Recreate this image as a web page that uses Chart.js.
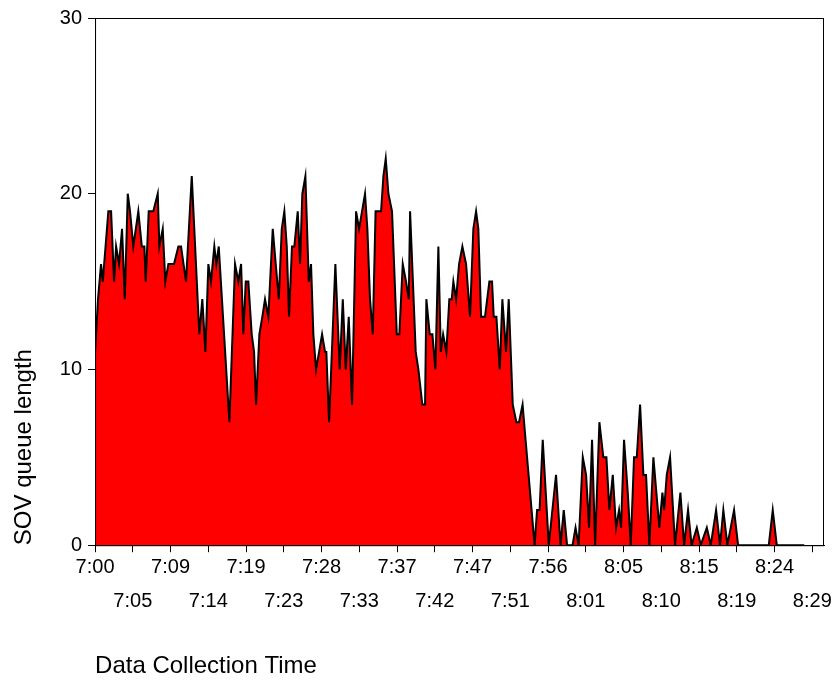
<!DOCTYPE html>
<html>
<head>
<meta charset="utf-8">
<title>SOV queue length</title>
<script src="https://cdn.jsdelivr.net/npm/chart.js@4.4.1/dist/chart.umd.min.js"></script>
<style>
  body { margin: 0; background: #fff; }
</style>
</head>
<body>
<canvas id="myChart" width="834" height="683"></canvas>
<script>
// minutes after 7:00
const times = [
    0, 0.37, 0.74, 0.96, 1.65, 1.99, 2.36, 2.61, 2.98, 3.35,
    3.69, 4.06, 4.34, 4.75, 5.37, 5.80, 6.12, 6.29, 6.66, 7.23,
    7.78, 7.98, 8.40, 8.72, 9.10, 9.80, 10.34, 10.67, 11.29, 12.00,
    12.94, 13.31, 13.69, 14.06, 14.39, 14.80, 15.05, 15.35, 16.67, 17.37,
    17.78, 18.12, 18.40, 18.70, 19.02, 19.44, 19.73, 19.98, 20.39, 20.76,
    21.09, 21.50, 22.05, 22.42, 22.80, 23.17, 23.49, 23.79, 24.07, 24.44,
    24.73, 25.15, 25.44, 25.72, 26.10, 26.52, 26.80, 27.09, 27.42, 27.80,
    28.17, 28.54, 28.70, 29.04, 29.82, 30.36, 30.74, 31.11, 31.48, 31.89,
    32.39, 32.76, 33.50, 33.79, 34.12, 34.46, 34.81, 35.49, 35.78, 36.07,
    36.40, 36.85, 37.44, 37.76, 38.18, 38.59, 38.93, 39.09, 39.79, 40.12,
    40.61, 40.95, 41.11, 41.53, 41.86, 42.23, 42.60, 42.90, 43.19, 43.59,
    43.96, 44.26, 44.46, 44.80, 45.17, 45.58, 46.04, 46.53, 46.94, 47.28,
    47.56, 47.90, 48.39, 48.93, 49.26, 49.47, 49.80, 50.22, 50.54, 51.00,
    51.33, 51.83, 52.28, 52.61, 53.05, 53.42, 54.54, 54.85, 55.16, 55.55,
    56.30, 57.20, 57.76, 58.16, 58.57, 59.25, 59.62, 60.00, 60.52, 60.93,
    61.30, 61.67, 62.05, 62.58, 63.07, 63.45, 63.82, 64.24, 64.65, 65.02,
    65.27, 65.64, 66.10, 66.47, 66.88, 67.22, 67.63, 68.04, 68.37, 68.78,
    69.28, 70.02, 70.40, 70.61, 70.94, 71.35, 71.97, 72.63, 73.09, 73.58,
    74.02, 74.67, 75.16, 75.91, 76.40, 77.06, 77.55, 77.96, 78.46, 79.29,
    79.79, 83.60, 84.09, 84.59, 88.00
];
const queueLength = [
    11, 14, 16, 15, 19, 19, 15, 17, 16, 18,
    14, 20, 19, 17, 19, 17, 17, 15, 19, 19,
    20, 17, 18, 15, 16, 16, 17, 17, 15, 21,
    12, 14, 11, 16, 15, 17, 16, 17, 7, 16,
    15, 16, 12, 15, 15, 12, 11, 8, 12, 13,
    14, 13, 18, 16, 14, 18, 19, 17, 13, 17,
    17, 19, 16, 20, 21, 15, 16, 12, 10, 11,
    12, 11, 11, 7, 16, 10, 14, 10, 13, 8,
    19, 18, 20, 18, 14, 12, 19, 19, 21, 22,
    20, 19, 12, 12, 16, 15, 14, 19, 11, 10,
    8, 8, 14, 12, 12, 10, 17, 11, 12, 11,
    14, 14, 15, 14, 16, 17, 16, 13, 18, 19,
    18, 13, 13, 15, 15, 13, 13, 10, 14, 11,
    14, 8, 7, 7, 8, 6, 0, 2, 2, 6,
    0, 4, 0, 2, 0, 0, 1, 0, 5, 4,
    1, 6, 0, 7, 5, 5, 2, 4, 1, 2,
    1, 6, 3, 0, 5, 5, 8, 4, 4, 0,
    5, 1, 3, 2, 4, 5, 0, 3, 0, 2,
    0, 1, 0, 1, 0, 2, 0, 2, 0, 2,
    0, 0, 2, 0, 0
];
const tickLabels = [
    '7:00', '7:05', '7:09', '7:14', '7:19', '7:23', '7:28', '7:33', '7:37', '7:42',
    '7:47', '7:51', '7:56', '8:01', '8:05', '8:10', '8:15', '8:19', '8:24', '8:29'
];
const tickStep = 89 / 19;

const frame = {
    id: 'frame',
    afterDraw(chart) {
        const {ctx, chartArea: a} = chart;
        ctx.save();
        ctx.strokeStyle = '#000';
        ctx.lineWidth = 1;
        ctx.strokeRect(a.left + 0.5, a.top + 0.5, a.right - a.left - 1, a.bottom - a.top);
        ctx.restore();
    }
};

const font = {family: 'Arial, "Liberation Sans", sans-serif'};

const myChart = new Chart(
    document.getElementById('myChart'),
    {
        type: 'line',
        data: {
            datasets: [
                {
                    label: 'SOV queue length',
                    data: times.map((t, i) => ({x: t, y: queueLength[i]})),
                    borderColor: '#000000',
                    borderWidth: 2,
                    backgroundColor: '#ff0000',
                    fill: 'origin',
                    pointRadius: 0,
                    tension: 0
                }
            ]
        },
        options: {
            responsive: false,
            animation: false,
            devicePixelRatio: 1,
            layout: {
                padding: {top: 6, right: 10, left: 10, bottom: 2}
            },
            plugins: {
                legend: {display: false},
                tooltip: {enabled: false}
            },
            scales: {
                x: {
                    type: 'linear',
                    min: 0,
                    max: 90.45,
                    afterBuildTicks: (axis) => {
                        axis.ticks = tickLabels.map((l, i) => ({value: i * tickStep}));
                    },
                    ticks: {
                        autoSkip: false,
                        maxRotation: 0,
                        color: '#000',
                        padding: -2,
                        font: {...font, size: 20, lineHeight: 1.7},
                        callback: (v, i) => i % 2 === 0 ? [tickLabels[i], ''] : ['', tickLabels[i]]
                    },
                    grid: {
                        drawOnChartArea: false,
                        drawTicks: true,
                        tickLength: 7,
                        color: '#000'
                    },
                    border: {color: '#000', width: 1},
                    title: {
                        display: true,
                        text: 'Data Collection Time',
                        align: 'start',
                        color: '#000',
                        font: {...font, size: 24},
                        padding: {top: 36, bottom: 0}
                    }
                },
                y: {
                    min: 0,
                    max: 30,
                    ticks: {
                        stepSize: 10,
                        color: '#000',
                        padding: 6,
                        font: {...font, size: 20}
                    },
                    grid: {
                        drawOnChartArea: false,
                        drawTicks: true,
                        tickLength: 7,
                        color: '#000'
                    },
                    border: {color: '#000', width: 1},
                    title: {
                        display: true,
                        text: 'SOV queue length',
                        align: 'start',
                        color: '#000',
                        font: {...font, size: 24},
                        padding: {top: 0, bottom: 15}
                    }
                }
            }
        },
        plugins: [frame]
    }
);
</script>
</body>
</html>
